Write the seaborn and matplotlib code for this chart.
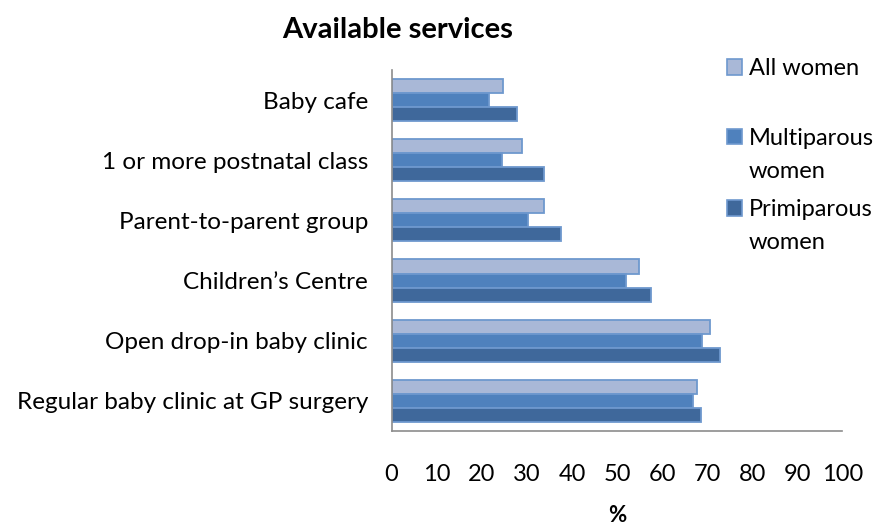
import pandas as pd
import seaborn as sns
import matplotlib.pyplot as plt
from matplotlib.patches import Rectangle

# values (%)
services = ['Baby cafe', '1 or more postnatal class', 'Parent-to-parent group',
            'Children\u2019s Centre', 'Open drop-in baby clinic',
            'Regular baby clinic at GP surgery']
all_women = [24.6, 29.0, 33.7, 54.8, 70.6, 67.8]
multiparous = [21.6, 24.5, 30.2, 52.0, 68.9, 66.9]
primiparous = [27.8, 33.7, 37.5, 57.6, 72.9, 68.6]
series_names = ['All women', 'Multiparous women', 'Primiparous women']
legend_labels = ['All women', 'Multiparous\nwomen', 'Primiparous\nwomen']
colors = ['#A9B8D7', '#4F81BD', '#3F689B']
x_ticks = [0, 10, 20, 30, 40, 50, 60, 70, 80, 90, 100]

# long format for seaborn
df = pd.DataFrame({
    'service': services * 3,
    'value': all_women + multiparous + primiparous,
    'group': [n for n in series_names for _ in services],
})

sns.set_style('white')
plt.rcParams['font.family'] = ['Lato', 'DejaVu Sans']
plt.rcParams['text.color'] = 'black'
plt.rcParams['axes.labelcolor'] = 'black'

fig = plt.figure(figsize=(8.84, 5.24), dpi=100)
ax = fig.add_axes([0.443, 0.178, 0.51, 0.688])

sns.barplot(data=df, x='value', y='service', hue='group', orient='h',
            order=services, hue_order=series_names, palette=colors,
            saturation=1, width=0.7, edgecolor='#6E98CE', linewidth=1.3,
            legend=False, ax=ax)

ax.set_xlim(0, 100)
ax.set_xticks(x_ticks)
ax.set_xticklabels([str(t) for t in x_ticks])
ax.tick_params(axis='x', length=0, pad=24, labelsize=17, labelcolor='black')
ax.tick_params(axis='y', length=0, pad=17, labelsize=17.5, labelcolor='black')
ax.set_ylabel('')
ax.set_xlabel('%', fontsize=16, fontweight='bold', labelpad=14)

for side in ['top', 'right']:
    ax.spines[side].set_visible(False)
for side in ['left', 'bottom']:
    ax.spines[side].set_color('#8C8C8C')
    ax.spines[side].set_linewidth(1.2)

fig.text(0.45, 0.943, 'Available services', ha='center', va='center',
         fontsize=21, fontweight='bold')

# legend drawn by hand so the square sits on the first text line
square_y = [0.872, 0.739, 0.603]
text_top = [0.889, 0.756, 0.620]
for lab, col, ys, yt in zip(legend_labels, colors, square_y, text_top):
    fig.patches.append(Rectangle((0.822, ys - 0.0145), 0.017, 0.029,
                                 transform=fig.transFigure, facecolor=col,
                                 edgecolor='#6E98CE', linewidth=1.2))
    fig.text(0.847, yt, lab, ha='left', va='top', fontsize=17,
             linespacing=1.72)

plt.savefig('out.png', dpi=100)
